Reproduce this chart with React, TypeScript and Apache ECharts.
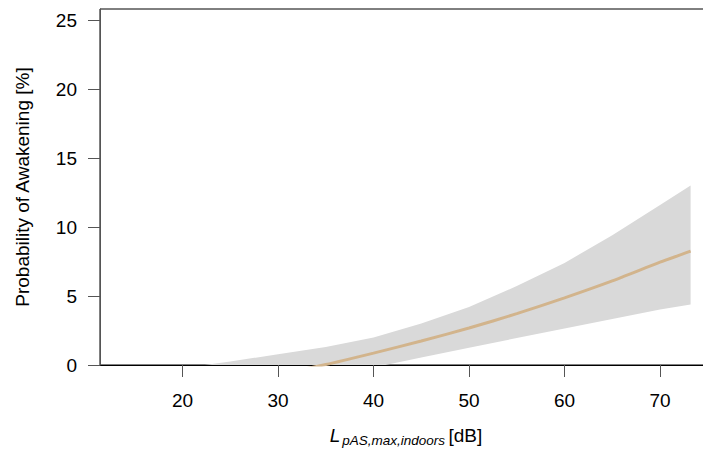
import React, { useEffect, useRef } from 'react';
import * as echarts from 'echarts';

const xValues = [22, 25, 30, 35, 40, 45, 50, 55, 60, 65, 70, 73.2];
const meanValues = [-1.5, -1.2, -0.65, 0.03, 0.86, 1.74, 2.68, 3.72, 4.87, 6.1, 7.45, 8.25];
const lowerValues = [-2.7, -2.3, -1.6, -0.88, -0.18, 0.54, 1.25, 1.95, 2.65, 3.33, 4.02, 4.38];
const upperValues = [-0.03, 0.25, 0.78, 1.3, 2.0, 3.0, 4.2, 5.72, 7.4, 9.4, 11.6, 13.0];
const xTicks = [20, 30, 40, 50, 60, 70];
const yTicks = [0, 5, 10, 15, 20, 25];

const FONT = 'Liberation Sans, Arial, sans-serif';

export default function App() {
  const ref = useRef<HTMLDivElement>(null);
  useEffect(() => {
    const chart = echarts.init(ref.current!, null, { renderer: 'svg' });
    const bandData = xValues.map((x, i) => [x, lowerValues[i], upperValues[i]]);
    const meanData = xValues.map((x, i) => [x, meanValues[i]]);
    chart.setOption({
      animation: false,
      backgroundColor: '#fff',
      grid: {
        left: 100,
        width: 612,
        top: 9,
        bottom: 89,
        outerBoundsMode: 'none',
        containLabel: false,
        show: true,
        borderColor: '#000',
        borderWidth: 1,
        backgroundColor: 'transparent',
      },
      xAxis: {
        type: 'value',
        min: 11.36,
        max: 75.44,
        axisLine: { show: true, onZero: false, lineStyle: { color: '#000', width: 1 } },
        axisTick: { show: true, customValues: xTicks, length: 12, lineStyle: { color: '#555' } },
        axisLabel: {
          customValues: xTicks,
          margin: 26,
          fontSize: 19,
          color: '#000',
          fontFamily: FONT,
        },
        splitLine: { show: false },
        name: '{L|L}{s|pAS,max,indoors} {n|[dB]}',
        nameLocation: 'middle',
        nameGap: 58,
        nameTextStyle: {
          fontFamily: FONT,
          color: '#000',
          rich: {
            L: { fontSize: 19, fontStyle: 'italic', fontFamily: FONT, color: '#000' },
            s: { fontSize: 13.5, fontStyle: 'italic', fontFamily: FONT, color: '#000', padding: [10, 0, 0, 2] },
            n: { fontSize: 19, fontFamily: FONT, color: '#000' },
          },
        },
      },
      yAxis: {
        type: 'value',
        min: 0,
        max: 25.8,
        z: 1,
        axisLine: { show: true, lineStyle: { color: '#555', width: 1 } },
        axisTick: { show: true, customValues: yTicks, length: 12, lineStyle: { color: '#555' } },
        axisLabel: {
          customValues: yTicks,
          margin: 23,
          fontSize: 19,
          color: '#000',
          fontFamily: FONT,
        },
        splitLine: { show: false },
        name: 'Probability of Awakening [%]',
        nameLocation: 'middle',
        nameGap: 68,
        nameTextStyle: { fontSize: 19, fontFamily: FONT, color: '#000' },
      },
      series: [
        {
          type: 'custom',
          data: bandData,
          encode: { x: 0, y: [1, 2] },
          clip: true,
          silent: true,
          renderItem: (params: any, api: any) => {
            if (params.dataIndex !== 0) return null;
            const pts: number[][] = [];
            for (let i = 0; i < xValues.length; i++) pts.push(api.coord([xValues[i], upperValues[i]]));
            for (let i = xValues.length - 1; i >= 0; i--) pts.push(api.coord([xValues[i], lowerValues[i]]));
            return {
              type: 'polygon',
              shape: { points: pts },
              style: { fill: '#d9d9d9', stroke: null },
            };
          },
        },
        {
          type: 'line',
          data: meanData,
          showSymbol: false,
          smooth: 0.2,
          lineStyle: { color: '#d2b48c', width: 3 },
          clip: true,
          silent: true,
          z: 3,
        },
      ],
    });
    return () => chart.dispose();
  }, []);
  return (
    <div
      ref={ref}
      style={{ position: 'fixed', left: 0, top: 0, width: 703, height: 454, background: '#fff' }}
    />
  );
}
